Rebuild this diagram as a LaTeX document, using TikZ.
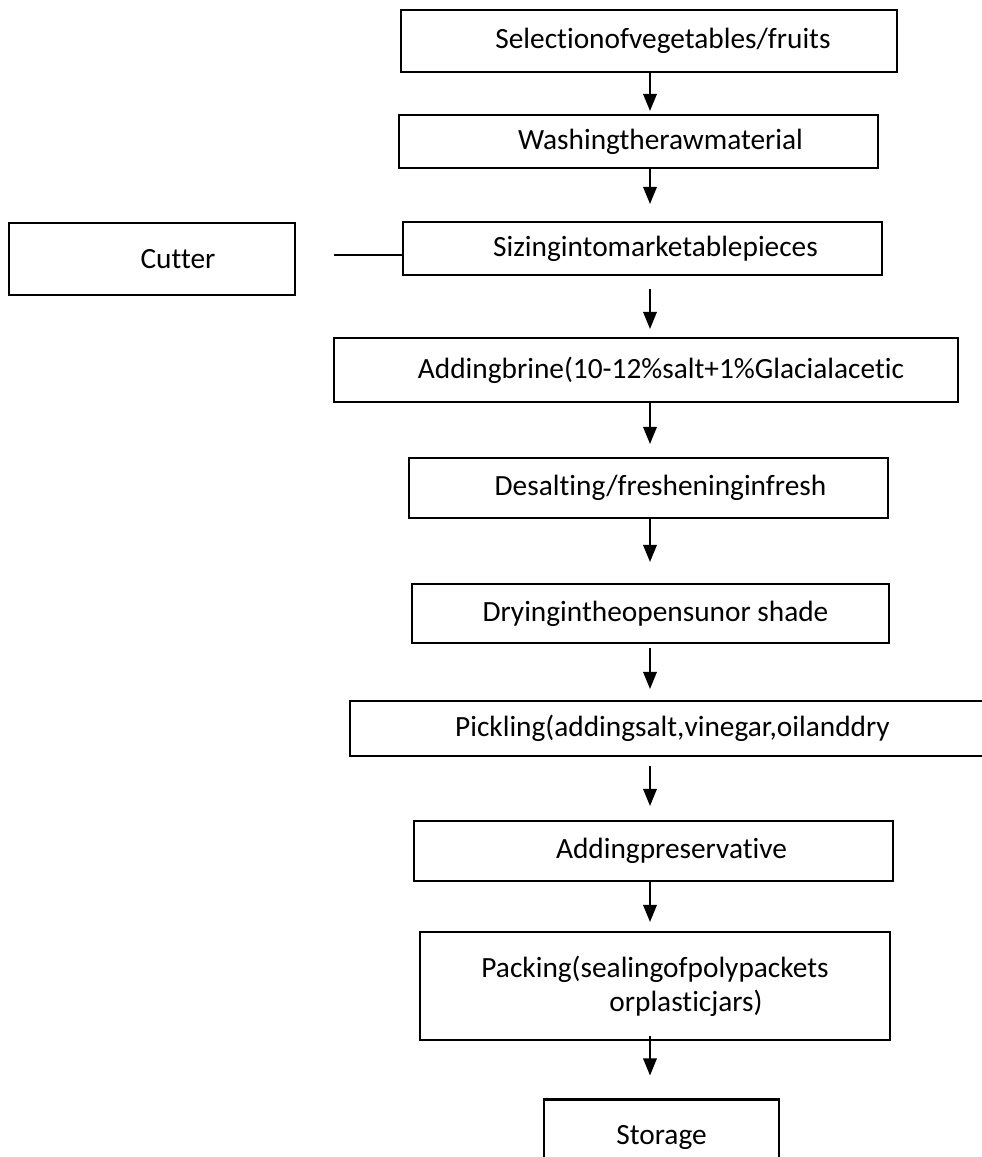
\documentclass[tikz,border=0pt]{standalone}
\usepackage{fontspec}
\setmainfont[Ligatures={NoCommon}]{Carlito}
\usetikzlibrary{arrows.meta}

\begin{document}
\begin{tikzpicture}[x=0.02cm,y=-0.02cm,
		stepbox/.style={draw,line width=1.2pt,minimum width=9.58cm,minimum height=1.06cm,inner sep=0pt,font=\fontsize{16.7}{19.5}\selectfont},
		flow/.style={-{Triangle[length=0.34cm,width=0.27cm]},line width=1pt}]
			\useasboundingbox (0,0) rectangle (982,1157);
			\coordinate (spine) at (650,0);
			
			\node[stepbox,minimum width=9.92cm,minimum height=1.24cm] (select) at (649,41) {\hspace*{0.56cm}Selectionofvegetables/fruits};
			\node[stepbox] (wash) at (638.5,141.5) {\hspace*{0.88cm}Washingtherawmaterial};
			\node[stepbox,minimum width=5.72cm,minimum height=1.44cm] (cutter) at (152,259) {\hspace*{1.04cm}Cutter};
			\node[stepbox] (size) at (642.5,248.5) {\hspace*{0.52cm}Sizingintomarketablepieces};
			\node[stepbox,minimum width=12.48cm,minimum height=1.28cm] (brine) at (646,370) {\hspace*{0.6cm}Addingbrine(10-12\%salt+1\%Glacialacetic};
			\node[stepbox,minimum height=1.2cm] (desalt) at (648.5,488) {\hspace*{0.48cm}Desalting/fresheninginfresh};
			\node[stepbox,minimum width=9.54cm,minimum height=1.18cm] (dry) at (650.5,613.5) {\hspace*{0.2cm}Dryingintheopensunor shade};
			\node[stepbox,minimum width=12.9cm,minimum height=1.1cm] (pickle) at (672.5,728.5) {Pickling(addingsalt,vinegar,oilanddry};
			\node[stepbox,minimum height=1.2cm] (preserve) at (653.5,851) {\hspace*{0.72cm}Addingpreservative};
			\node[stepbox,minimum width=9.4cm,minimum height=2.16cm,align=left] (pack) at (655,986) {Packing(sealingofpolypackets\\\hspace*{2.56cm}orplasticjars)};
			\node[stepbox,minimum width=4.7cm,minimum height=1.5cm] (store) at (661.5,1137) {Storage};
			
			\coordinate (cutend) at (334,255);
			\draw[line width=1pt] (cutend) -- (size.west |- cutend);
			
			\draw[flow,shorten >=0.06cm] (select.south -| spine) -- (wash.north -| spine);
			\draw[flow,shorten >=0.34cm] (wash.south -| spine) -- (size.north -| spine);
			\draw[flow,shorten <=0.26cm,shorten >=0.16cm] (size.south -| spine) -- (brine.north -| spine);
			\draw[flow,shorten >=0.26cm] (brine.south -| spine) -- (desalt.north -| spine);
			\draw[flow,shorten >=0.42cm] (desalt.south -| spine) -- (dry.north -| spine);
			\draw[flow,shorten <=0.08cm,shorten >=0.22cm] (dry.south -| spine) -- (pickle.north -| spine);
			\draw[flow,shorten <=0.18cm,shorten >=0.28cm] (pickle.south -| spine) -- (preserve.north -| spine);
			\draw[flow,shorten >=0.18cm] (preserve.south -| spine) -- (pack.north -| spine);
			\draw[flow,shorten <=-0.1cm,shorten >=0.46cm] (pack.south -| spine) -- (store.north -| spine);
		\end{tikzpicture}
\end{document}
